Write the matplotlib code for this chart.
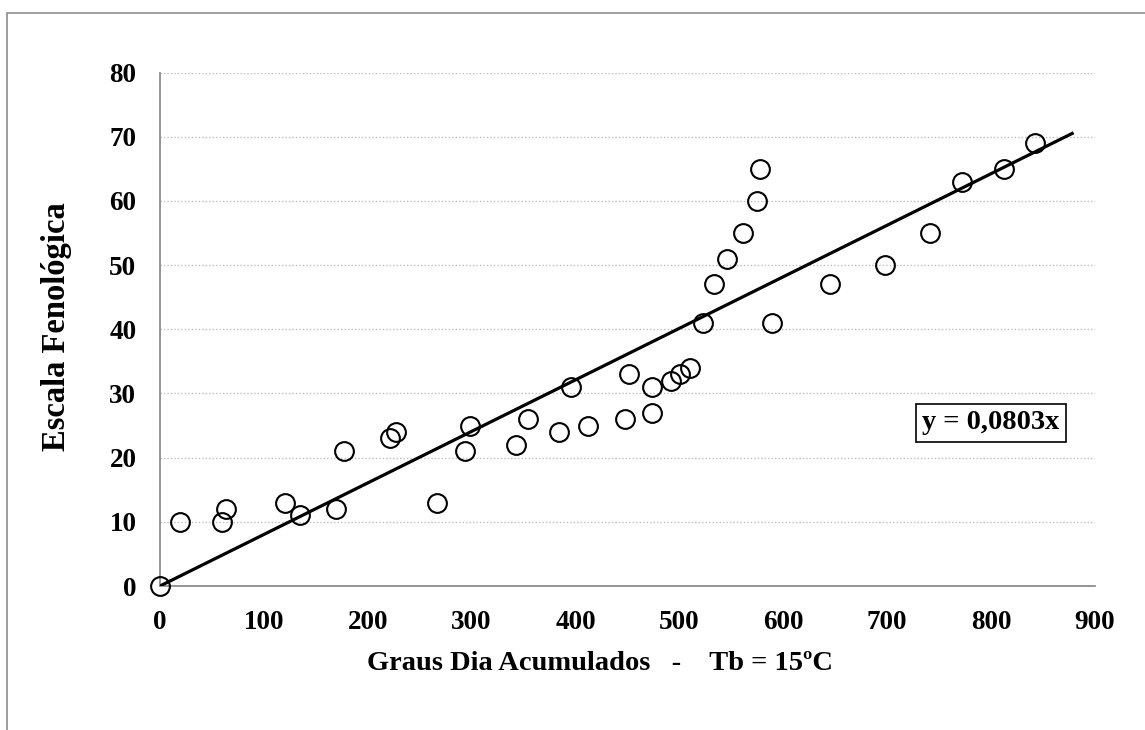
import numpy as np
import matplotlib.pyplot as plt
from matplotlib.patches import Rectangle

# graus dia acumulados (Tb = 15ºC) e escala fenologica
graus_dia = [0, 19, 60, 64, 120, 135, 169, 177, 221, 227, 267, 294, 298, 343,
             354, 384, 396, 412, 448, 451, 474, 474, 492, 501, 510, 523, 533,
             546, 561, 575, 578, 589, 645, 698, 741, 772, 812, 842]
escala = [0, 10, 10, 12, 13, 11, 12, 21, 23, 24, 13, 21, 25, 22,
          26, 24, 31, 25, 26, 33, 27, 31, 32, 33, 34, 41, 47,
          51, 55, 60, 65, 41, 47, 50, 55, 63, 65, 69]
slope = 0.0803
trend_end = 878
x_ticks = [0, 100, 200, 300, 400, 500, 600, 700, 800, 900]
y_ticks = [0, 10, 20, 30, 40, 50, 60, 70, 80]

plt.rcParams['font.family'] = ['Liberation Serif', 'DejaVu Serif']
plt.rcParams['font.weight'] = 'bold'

W, H = 1145, 730
fig = plt.figure(figsize=(W / 100, H / 100), dpi=100)
ax = fig.add_axes([160 / W, 1 - 586 / H, (1095 - 160) / W, (586 - 72.5) / H])

# borda externa do grafico
fig.patches.append(Rectangle((7.3 / W, -0.05), 1.2, 1 - 12.7 / H + 0.05,
                             transform=fig.transFigure, fill=False,
                             edgecolor='#8c8c8c', linewidth=1.2, clip_on=False))

ax.set_xlim(0, 900)
ax.set_ylim(0, 80)
ax.set_xticks(x_ticks)
ax.set_yticks(y_ticks)
ax.tick_params(axis='both', length=0, labelsize=19.5)
ax.tick_params(axis='x', pad=17)
ax.tick_params(axis='y', pad=17)
for lab in ax.get_xticklabels() + ax.get_yticklabels():
    lab.set_fontweight('bold')

ax.grid(axis='y', linestyle=(0, (1, 1.5)), color='#bfbfbf', linewidth=1.0)
ax.set_axisbelow(True)
for s in ['top', 'right']:
    ax.spines[s].set_visible(False)
for s in ['left', 'bottom']:
    ax.spines[s].set_color('#8c8c8c')
    ax.spines[s].set_linewidth(1.3)

xt = np.array([0, trend_end])
ax.plot(xt, slope * xt, color='black', linewidth=2.3, zorder=3)
ax.plot(graus_dia, escala, linestyle='none', marker='o', markersize=13.5,
        markerfacecolor='none', markeredgecolor='black', markeredgewidth=1.5,
        zorder=4, clip_on=False)

ax.text(800, 25.4, 'y = 0,0803x', fontsize=20.5, fontweight='bold',
        ha='center', va='center',
        bbox=dict(boxstyle='square,pad=0.22', facecolor='white',
                  edgecolor='black', linewidth=1.2))

fig.text(600 / W, 1 - 663 / H, 'Graus Dia Acumulados   -    Tb = 15ºC',
         fontsize=20.5, fontweight='bold', ha='center', va='center')
fig.text(57 / W, 1 - 327 / H, 'Escala Fenológica', fontsize=23.5,
         fontweight='bold', ha='center', va='center', rotation=90)

fig.savefig('out.png', dpi=100)
